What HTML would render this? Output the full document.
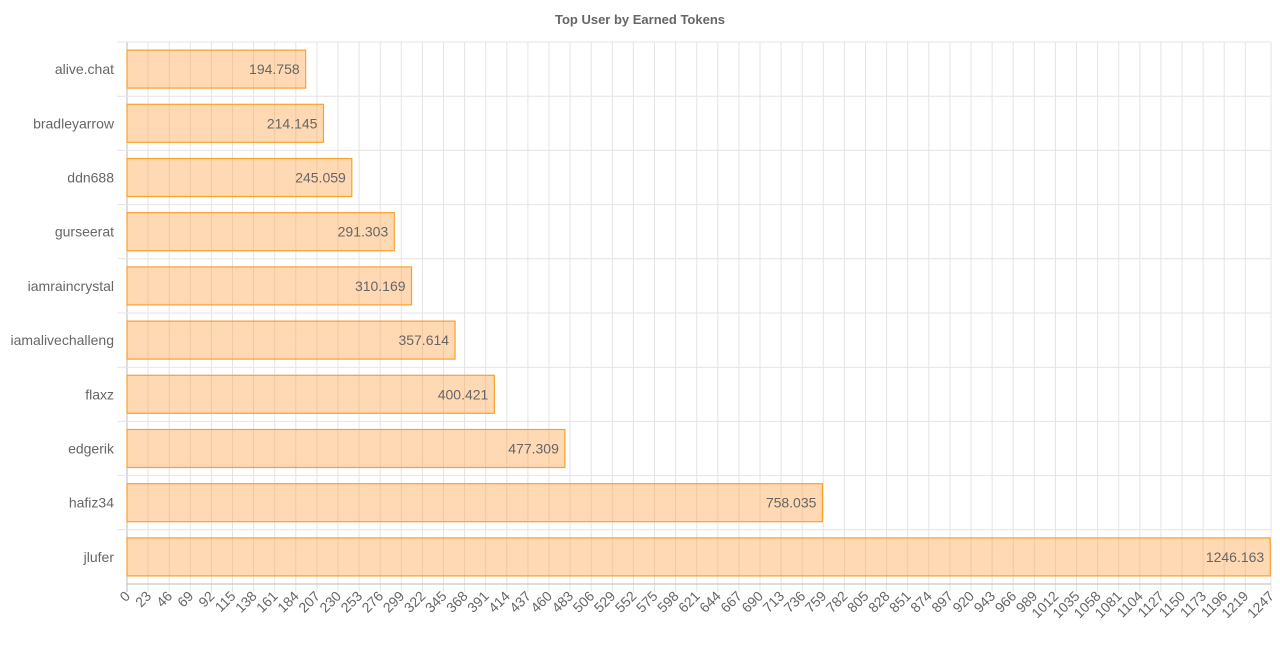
<!DOCTYPE html>
<html><head><meta charset="utf-8"><style>
body{margin:0;background:#fff;font-family:"Liberation Sans",sans-serif;}
</style></head><body>
<svg id="c" width="1280" height="640" xmlns="http://www.w3.org/2000/svg">
<text x="640" y="24" text-anchor="middle" font-size="13" font-weight="bold" fill="#666" font-family="Liberation Sans">Top User by Earned Tokens</text>
<g id="grid"></g><g id="bars"></g><g id="labels"></g>
</svg>
<script>
const categories=["alive.chat","bradleyarrow","ddn688","gurseerat","iamraincrystal","iamalivechalleng","flaxz","edgerik","hafiz34","jlufer"];
const values=[194.758,214.145,245.059,291.303,310.169,357.614,400.421,477.309,758.035,1246.163];
const tickStep=23;
const axisMax=1247;
const L=127,R=1271,T=42,B=584;
const NS="http://www.w3.org/2000/svg";
const sx=v=>L+(v/axisMax)*(R-L);
const rowH=(B-T)/categories.length;
const sy=i=>T+i*rowH;
function mk(tag,attrs,parent){const e=document.createElementNS(NS,tag);for(const k in attrs)e.setAttribute(k,attrs[k]);parent.appendChild(e);return e;}
const grid=document.getElementById('grid'),bars=document.getElementById('bars'),labels=document.getElementById('labels');
const ticks=[];for(let v=0;v<=axisMax-tickStep;v+=tickStep)ticks.push(v);ticks.push(axisMax);
ticks.forEach((v,i)=>{
  const x=sx(v);
  const ln=mk('line',{x1:x,x2:x,y1:T,y2:B+8,stroke:i===0?'#bbb':'#e4e4e4','stroke-width':1},grid);
  
  
  const t=mk('text',{x:x+4,y:B+13,'font-size':14,fill:'#666','text-anchor':'end',transform:`rotate(-45 ${x+4} ${B+13})`,'font-family':'Liberation Sans'},labels);
  t.textContent=v;
  
  
});
for(let i=0;i<=categories.length;i++){
  const y=sy(i);
  const ln=mk('line',{x1:i===categories.length?L:L-10,x2:R,y1:y,y2:y,stroke:i===categories.length?'#bbb':'#e4e4e4','stroke-width':1},grid);
  
  
}
categories.forEach((c,i)=>{
  const y=sy(i),cy=y+rowH/2,h=38;
  const r=mk('rect',{x:sx(0),y:cy-h/2,width:sx(values[i])-sx(0),height:h,fill:'rgba(255,159,64,0.4)',stroke:'#f9a12b','stroke-width':1.2},bars);
  
  
  const v=mk('text',{x:sx(values[i])-6,y:cy+5,'font-size':14,fill:'#666','text-anchor':'end','font-family':'Liberation Sans'},labels);
  v.textContent=values[i];
  
  
  const t=mk('text',{x:114,y:cy+5,'font-size':14,fill:'#666','text-anchor':'end','font-family':'Liberation Sans'},labels);
  t.textContent=c;
  
  
});
</script>
</body></html>
